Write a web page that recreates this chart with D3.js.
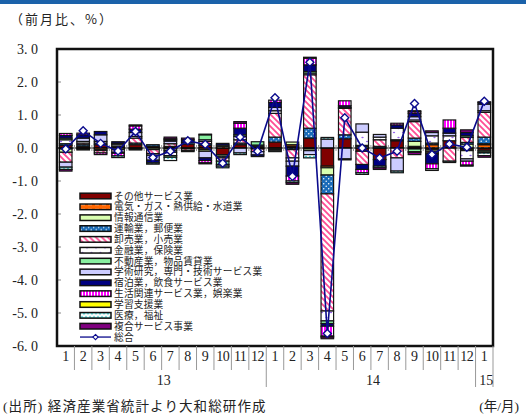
<!DOCTYPE html>
<html>
<head>
<meta charset="utf-8">
<script src="https://cdn.jsdelivr.net/npm/d3@7"></script>
<style>
  html, body { margin: 0; padding: 0; background: #fff; }
  svg { display: block; }
</style>
</head>
<body>
<svg id="chart" width="526" height="416"></svg>
<script>
// Month labels (2013/1 .. 2015/1) and year groups
const months = ["1","2","3","4","5","6","7","8","9","10","11","12",
                "1","2","3","4","5","6","7","8","9","10","11","12","1"];
const years = [{label: "13", from: 0, to: 11}, {label: "14", from: 12, to: 23}, {label: "15", from: 24, to: 24}];
const yTicks = [3, 2, 1, 0, -1, -2, -3, -4, -5, -6];

// Contribution by industry (percentage points, month-on-month)
const otherServices  = [0.08,0.05,0.10,0.05,0.10,0.05,0.05,0.12,0.08,-0.20,0.10,0.05, 0.18,0.05,0.30,-0.55,0.28,-0.10,-0.35,0.22,0.05,-0.05,0.22,-0.05,-0.07];
const utilities      = [-0.03,0,-0.05,0,-0.03,0,-0.03,0,-0.05,0.05,0,0, 0,0.05,-0.03,-0.05,0,0,0,0,-0.03,0.10,0,-0.03,0.10];
const infoComm       = [-0.10,-0.03,-0.03,-0.05,-0.03,-0.05,-0.05,-0.03,-0.05,-0.05,0,-0.03, -0.04,0.08,-0.05,-0.22,0,0.05,0,0,0.15,-0.05,0,0.12,0.03];
const transport      = [0.05,0.05,0.05,0,0.05,0.05,-0.05,0.05,0.05,-0.05,0.05,0.04, 0.15,-0.05,0.30,-0.57,0.12,0.03,0.05,0.03,0.10,0.05,0,0.05,0.20];
const tradeRetail    = [-0.30,0.05,-0.07,-0.08,0.15,-0.12,0.08,-0.05,0.07,-0.10,0.10,-0.08, 0.72,-0.25,1.62,-3.55,0.80,-0.40,0.20,-0.30,0.50,-0.05,-0.40,0.15,0.75];
const finance        = [0.12,0.05,0.05,0.05,0.05,-0.05,-0.10,0,0.05,0.04,0.10,0, 0.08,-0.10,0.05,-0.30,0.03,0.40,0.08,0.35,0.05,0.22,0.15,-0.25,0.05];
const realEstate     = [0.05,0,0,-0.03,0,0,-0.05,0,0.15,-0.10,0.05,0.10, -0.03,0,0.05,-0.08,0,0,0,0,-0.08,-0.03,0,0.05,-0.05];
const research       = [-0.15,0.10,0.20,0.04,0.12,-0.15,0.08,0,-0.20,-0.05,-0.15,-0.10, 0.10,-0.15,-0.12,0.27,-0.33,0.25,0.08,-0.40,0.10,0.10,0.08,-0.07,0.20];
const accommodation  = [0.08,0.10,0.10,0.05,0.10,-0.08,0.04,0.08,-0.08,0.05,0.20,-0.05, 0.15,-0.30,0.20,-0.08,0.05,-0.15,-0.20,0.10,0.10,-0.30,0.15,0.10,0.05];
const livingLeisure  = [0.06,0.05,-0.05,-0.08,0.10,0,0.03,0,-0.07,0,0.15,0, 0.07,-0.15,0.20,-0.30,0.15,-0.10,0,0.05,0.05,-0.15,0.25,-0.12,0.02];
const education      = [0,0,0,0,0,0,0,0,0,0,0,0, 0,0,0.03,-0.03,0,0,0,0,-0.02,0,0,0,-0.03];
const medical        = [-0.07,-0.03,0,-0.05,0.03,-0.04,-0.10,-0.03,0.02,-0.05,-0.05,0, -0.04,-0.05,-0.10,0.05,-0.03,-0.05,-0.05,-0.05,0.03,-0.05,-0.04,-0.03,-0.08];
const compound       = [-0.05,0,0,0,0,0,0.05,0.05,-0.03,0,0.05,0, 0,-0.05,0,-0.05,0,0,-0.05,0,-0.07,0.05,0,0.08,-0.05];
const total          = [-0.03,0.52,0.14,-0.09,0.50,-0.29,-0.10,0.22,0.11,-0.46,0.33,-0.10, 1.52,-0.86,2.60,-5.62,0.92,0.00,-0.30,-0.10,1.35,-0.20,0.12,0.02,1.42];

const seriesNames = ["その他サービス業","電気・ガス・熱供給・水道業","情報通信業","運輸業，郵便業","卸売業，小売業",
  "金融業，保険業","不動産業，物品賃貸業","学術研究，専門・技術サービス業","宿泊業，飲食サービス業",
  "生活関連サービス業，娯楽業","学習支援業","医療，福祉","複合サービス事業"];
const seriesValues = [otherServices, utilities, infoComm, transport, tradeRetail, finance, realEstate,
  research, accommodation, livingLeisure, education, medical, compound];
const totalName = "総合";

const fills = ["#800000","url(#pElec)","#d9ffb0","url(#pTrans)","url(#pRetail)","url(#pFin)","#88f0a0",
  "#ccccff","#000080","url(#pLife)","#ffff00","url(#pMed)","#800080"];

const jpFont = "'Liberation Serif', 'Noto Sans CJK JP'";
const svg = d3.select("#chart");

// ---- pattern fills ----
const defs = svg.append("defs");
function pattern(id, w, h) {
  return defs.append("pattern").attr("id", id).attr("patternUnits", "userSpaceOnUse")
    .attr("width", w).attr("height", h);
}
let p = pattern("pElec", 7, 5);
p.append("rect").attr("width", 7).attr("height", 5).attr("fill", "#ff6600");
p.append("rect").attr("x", 1).attr("y", 2).attr("width", 4).attr("height", 1.2).attr("fill", "#fff");

p = pattern("pTrans", 5, 5);
p.append("rect").attr("width", 5).attr("height", 5).attr("fill", "#1a6bb8");
p.append("circle").attr("cx", 1.2).attr("cy", 1.2).attr("r", 0.75).attr("fill", "#fff");
p.append("circle").attr("cx", 3.7).attr("cy", 3.7).attr("r", 0.75).attr("fill", "#fff");

p = pattern("pRetail", 6, 6);
p.append("rect").attr("width", 6).attr("height", 6).attr("fill", "#fff");
p.append("path").attr("d", "M-1,-1L7,7M-1,5L1,7M5,-1L7,1").attr("stroke", "#ff4d94").attr("stroke-width", 1.8);

p = pattern("pFin", 9, 9);
p.append("rect").attr("width", 9).attr("height", 9).attr("fill", "#fff");
p.append("ellipse").attr("cx", 2.5).attr("cy", 2.5).attr("rx", 1.2).attr("ry", 0.7).attr("fill", "#9966ee");
p.append("ellipse").attr("cx", 7).attr("cy", 6.5).attr("rx", 1.2).attr("ry", 0.7).attr("fill", "#9966ee");

p = pattern("pLife", 3, 4);
p.append("rect").attr("width", 3).attr("height", 4).attr("fill", "#fff");
p.append("rect").attr("width", 2).attr("height", 4).attr("fill", "#ff00ff");

p = pattern("pMed", 8, 5);
p.append("rect").attr("width", 8).attr("height", 5).attr("fill", "#fff");
p.append("path").attr("d", "M0,3.5L2,1.5L4,3.5L6,1.5L8,3.5").attr("fill", "none")
  .attr("stroke", "#33cccc").attr("stroke-width", 1.3);

// ---- layout ----
const plotLeft = 57, plotRight = 493, plotTop = 49, plotBottom = 346;

// top band
svg.append("rect").attr("x", 0).attr("y", 0).attr("width", 526).attr("height", 4).attr("fill", "#1b62aa");

svg.append("text").attr("x", 10).attr("y", 18).attr("font-family", "Noto Sans CJK JP")
  .attr("font-size", 13).attr("letter-spacing", 2).attr("dominant-baseline", "central")
  .attr("fill", "#222").text("（前月比、%）");

const x = d3.scaleBand().domain(d3.range(months.length)).range([plotLeft, plotRight])
  .paddingInner(0.28).paddingOuter(0.14);
const y = d3.scaleLinear().domain([-6, 3]).range([plotBottom, plotTop]);

// y tick labels
svg.append("g").selectAll("text").data(yTicks).join("text")
  .attr("x", 38).attr("y", d => y(d))
  .attr("text-anchor", "end").attr("dominant-baseline", "central")
  .attr("font-family", "Liberation Serif").attr("font-size", 14).attr("fill", "#222")
  .text(d => d3.format(".1f")(d).replace(".", ". ").replace("−", "-"));

// inner y ticks
svg.append("g").selectAll("line").data(yTicks.slice(1, -1)).join("line")
  .attr("x1", plotLeft).attr("x2", plotLeft + 4).attr("y1", d => y(d)).attr("y2", d => y(d))
  .attr("stroke", "#888").attr("stroke-width", 1);

// stacked bars (positives up, negatives down from zero)
const table = months.map((m, i) => {
  const row = {i};
  seriesNames.forEach((n, k) => row[n] = seriesValues[k][i]);
  return row;
});
const stacked = d3.stack().keys(seriesNames).offset(d3.stackOffsetDiverging)(table);

const barG = svg.append("g");
stacked.forEach((layer, k) => {
  barG.append("g").selectAll("rect")
    .data(layer.filter(d => Math.abs(d[1] - d[0]) > 1e-9)).join("rect")
    .attr("x", d => x(d.data.i))
    .attr("width", x.bandwidth())
    .attr("y", d => y(Math.max(d[0], d[1])))
    .attr("height", d => Math.abs(y(d[0]) - y(d[1])))
    .attr("fill", fills[k])
    .attr("stroke", "#141414").attr("stroke-width", 1.2);
});

// zero line with minor category ticks
svg.append("line").attr("x1", plotLeft).attr("x2", plotRight).attr("y1", y(0)).attr("y2", y(0))
  .attr("stroke", "#000").attr("stroke-width", 1);
svg.append("g").selectAll("line").data(d3.range(1, months.length)).join("line")
  .attr("x1", i => plotLeft + i * x.step()).attr("x2", i => plotLeft + i * x.step())
  .attr("y1", y(0) - 3).attr("y2", y(0) + 3).attr("stroke", "#999").attr("stroke-width", 1);

// total line with diamond markers
const cx = i => x(i) + x.bandwidth() / 2;
svg.append("path").datum(total)
  .attr("d", d3.line().x((d, i) => cx(i)).y(d => y(d)))
  .attr("fill", "none").attr("stroke", "#0a0a8c").attr("stroke-width", 1.6);
const diamond = (s) => `M0,${-s}L${s},0L0,${s}L${-s},0Z`;
svg.append("g").selectAll("path").data(total).join("path")
  .attr("transform", (d, i) => `translate(${cx(i)},${y(d)})`)
  .attr("d", diamond(4)).attr("fill", "#fff").attr("stroke", "#0a0a8c").attr("stroke-width", 1.4);

// plot frame
svg.append("rect").attr("x", plotLeft).attr("y", plotTop).attr("width", plotRight - plotLeft).attr("height", plotBottom - plotTop)
  .attr("fill", "none").attr("stroke", "#111").attr("stroke-width", 2.5);

// legend
const leg = svg.append("g").attr("transform", "translate(80,196)");
const legRows = seriesNames.map((n, k) => ({name: n, fill: fills[k]}));
const rowH = 10.85;
legRows.forEach((r, k) => {
  const g = leg.append("g").attr("transform", `translate(0,${k * rowH})`);
  g.append("rect").attr("x", 0).attr("y", -2.8).attr("width", 31).attr("height", 5.6)
    .attr("fill", r.fill).attr("stroke", "#111").attr("stroke-width", 1.5);
  g.append("text").attr("x", 34).attr("y", 0).attr("dominant-baseline", "central")
    .attr("font-family", jpFont).attr("font-size", 9.7).attr("letter-spacing", 0.2)
    .attr("fill", "#222").text(r.name);
});
{
  const g = leg.append("g").attr("transform", `translate(0,${seriesNames.length * rowH})`);
  g.append("line").attr("x1", 0).attr("x2", 31).attr("stroke", "#0a0a8c").attr("stroke-width", 1.3);
  g.append("path").attr("transform", "translate(15.5,0)").attr("d", diamond(2.6))
    .attr("fill", "#fff").attr("stroke", "#0a0a8c").attr("stroke-width", 1.1);
  g.append("text").attr("x", 34).attr("y", 0).attr("dominant-baseline", "central")
    .attr("font-family", jpFont).attr("font-size", 9.7).attr("letter-spacing", 0.2)
    .attr("fill", "#222").text(totalName);
}

// category axis (month / year table)
const axisG = svg.append("g");
axisG.selectAll("line.m").data(d3.range(1, months.length + 1)).join("line")
  .attr("x1", i => plotLeft + i * x.step()).attr("x2", i => plotLeft + i * x.step())
  .attr("y1", plotBottom).attr("y2", i => (years.some(yy => yy.from === i) || i === months.length) ? 387 : 370)
  .attr("stroke", "#999").attr("stroke-width", 1);
axisG.selectAll("text.m").data(months).join("text")
  .attr("x", (d, i) => cx(i)).attr("y", 356)
  .attr("text-anchor", "middle").attr("dominant-baseline", "central")
  .attr("font-family", "Liberation Serif").attr("font-size", 14).attr("fill", "#222")
  .attr("letter-spacing", (d) => d.length > 1 ? -0.5 : 0)
  .text(d => d);
axisG.selectAll("text.y").data(years).join("text")
  .attr("x", d => (plotLeft + d.from * x.step() + plotLeft + (d.to + 1) * x.step()) / 2 + 2).attr("y", 380)
  .attr("text-anchor", "middle").attr("dominant-baseline", "central")
  .attr("font-family", "Liberation Serif").attr("font-size", 14).attr("fill", "#222")
  .text(d => d.label);

// footer
svg.append("text").attr("x", 3).attr("y", 406.5).attr("dominant-baseline", "central")
  .attr("font-family", jpFont).attr("font-size", 13.5).attr("letter-spacing", 1.1)
  .attr("fill", "#222").text("(出所) 経済産業省統計より大和総研作成");
svg.append("text").attr("x", 519).attr("y", 406.5).attr("text-anchor", "end").attr("dominant-baseline", "central")
  .attr("font-family", jpFont).attr("font-size", 13.5)
  .attr("fill", "#222").text("(年/月)");
</script>
</body>
</html>
